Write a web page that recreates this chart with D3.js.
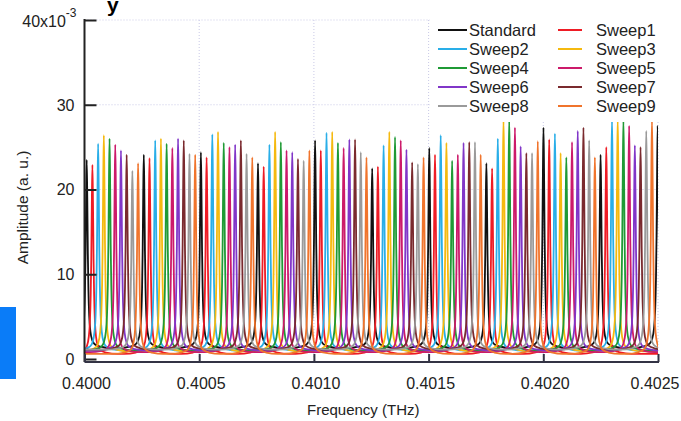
<!DOCTYPE html>
<html>
<head>
<meta charset="utf-8">
<script src="https://cdn.jsdelivr.net/npm/d3@7"></script>
<style>
    body { margin: 0; background: #fff; }
    #chart-area { width: 681px; height: 421px; }
    text { font-family: "Liberation Sans", Arial, sans-serif; fill: #222; }
</style>
</head>
<body>
<div id="chart-area"></div>
<script>
/* * * * * * * * * * * * * *
*   Sweep spectra (comb)    *
* * * * * * * * * * * * * */

// series names (legend order)
const seriesNames = ["Standard", "Sweep1", "Sweep2", "Sweep3", "Sweep4",
    "Sweep5", "Sweep6", "Sweep7", "Sweep8", "Sweep9"];

// comb layout (THz)
const combStart = 0.4000096;     // first Standard peak
const combSpacing = 0.0002489;   // peak to peak, same series
const sweepStep = 0.00002489;    // shift between neighbouring sweeps

// peak heights, x10^-3 a.u., one per comb line
const standardPeaks = [23.5, 24.1, 24.4, 23.1, 25.8, 22.5, 24.9, 23.1, 27.3, 24.1, 27.5];
const sweep1Peaks = [22.9, 23.7, 23.8, 22.7, 24.6, 22.7, 24.1, 22.5, 25.9, 25.0];
const sweep2Peaks = [25.4, 25.8, 26.5, 25.3, 26.7, 25.2, 26.4, 26.0, 26.6, 28.2];
const sweep3Peaks = [26.4, 26.0, 26.8, 26.8, 26.8, 26.8, 25.5, 28.2, 24.3, 28.3];
const sweep4Peaks = [26.0, 25.4, 25.5, 25.6, 25.5, 26.2, 23.4, 28.2, 23.8, 28.2];
const sweep5Peaks = [25.3, 24.9, 25.0, 24.6, 24.9, 25.8, 24.1, 27.3, 25.6, 27.5];
const sweep6Peaks = [24.6, 26.0, 25.3, 24.4, 25.9, 24.7, 25.5, 25.1, 26.9, 25.2];
const sweep7Peaks = [24.1, 25.8, 25.8, 23.6, 25.9, 23.2, 25.6, 24.3, 27.3, 25.0];
const sweep8Peaks = [22.2, 24.2, 24.2, 23.4, 24.4, 23.0, 25.6, 24.3, 25.8, 26.9];
const sweep9Peaks = [23.1, 24.1, 23.8, 24.6, 23.8, 23.8, 24.1, 25.7, 23.8, 28.2];

// noise floor of each trace, x10^-3
const baselines = [1.3, 0.6, 1.0, 0.9, 1.0, 0.8, 1.0, 1.1, 1.1, 0.6];

// line shape of one peak: offset from centre (MHz) and fraction of height
const profileOffsets = [-110, -60, -35, -25, -16, -11, -7.5, -5, -2.5, 0, 2.5, 5, 7.5, 11, 16, 25, 35, 60, 110];
const profileFractions = [0, 0.007, 0.02, 0.038, 0.089, 0.17, 0.31, 0.5, 0.8, 1, 0.8, 0.5, 0.31, 0.17, 0.089, 0.038, 0.02, 0.007, 0];

// axes
const xTicks = [0.4000, 0.4005, 0.4010, 0.4015, 0.4020, 0.4025];
const yTicks = [0, 10, 20, 30, 40];

const seriesColors = ["#111111", "#ee1c25", "#29aee8", "#f5b90f", "#1f9a35",
    "#cc1a6a", "#8136c8", "#7a2a2e", "#9a9a9a", "#f0742c"];


class combVis {
    constructor(parentElement, peaks) {
        this.parentElement = parentElement;
        this.peaks = peaks;
        this.initVis();
    }

    initVis() {
        let vis = this;
        vis.W = 681;
        vis.H = 421;
        vis.margin = {top: 20, right: 23, bottom: 62, left: 84.5};
        vis.width = vis.W - vis.margin.left - vis.margin.right;
        vis.height = 359 - vis.margin.top;

        vis.root = d3.select("#" + vis.parentElement).append("svg")
            .attr("width", vis.W)
            .attr("height", vis.H);

        vis.svg = vis.root.append("g")
            .attr("transform", `translate(${vis.margin.left}, ${vis.margin.top})`);

        vis.x = d3.scaleLinear().domain([0.4000, 0.4025]).range([0, vis.width]);
        vis.y = d3.scaleLinear().domain([0, 40]).range([vis.height, 0]);

        vis.svg.append("clipPath").attr("id", "plot-clip")
            .append("rect")
            .attr("x", 0).attr("y", -2)
            .attr("width", vis.width).attr("height", vis.height + 5);

        vis.wrangleData();
    }

    wrangleData() {
        let vis = this;
        vis.lines = vis.peaks.map((heights, s) => {
            let base = baselines[s];
            let pts = [{f: 0.3999, v: base}];
            heights.forEach((h, k) => {
                let c = combStart + k * combSpacing + s * sweepStep;
                profileOffsets.forEach((off, i) => {
                    pts.push({f: c + off * 1e-6, v: base + (h - base) * profileFractions[i]});
                });
            });
            pts.push({f: 0.4026, v: base});
            return {name: seriesNames[s], color: seriesColors[s], values: pts};
        });
        vis.updateVis();
    }

    updateVis() {
        let vis = this;

        // dotted grid
        let grid = vis.svg.append("g").attr("class", "grid");
        grid.selectAll(".vgrid").data(xTicks.slice(1))
            .enter().append("line")
            .attr("x1", d => vis.x(d)).attr("x2", d => vis.x(d))
            .attr("y1", 0).attr("y2", vis.height)
            .attr("stroke", "#c9c9e6").attr("stroke-width", 1)
            .attr("stroke-dasharray", "1,2");
        grid.selectAll(".hgrid").data(yTicks.slice(1))
            .enter().append("line")
            .attr("x1", 0).attr("x2", vis.width)
            .attr("y1", d => vis.y(d)).attr("y2", d => vis.y(d))
            .attr("stroke", "#c9c9e6").attr("stroke-width", 1)
            .attr("stroke-dasharray", "1,2");

        // traces
        let line = d3.line()
            .x(d => vis.x(d.f))
            .y(d => vis.y(d.v))
            .curve(d3.curveMonotoneX);
        vis.svg.append("g").attr("clip-path", "url(#plot-clip)")
            .selectAll("path").data(vis.lines)
            .enter().append("path")
            .attr("d", d => line(d.values))
            .attr("fill", "none")
            .attr("stroke", d => d.color)
            .attr("stroke-width", 1.8)
            .attr("stroke-linejoin", "round");

        // left axis, ticks pointing in
        let yAxis = d3.axisRight(vis.y).tickValues(yTicks).tickSize(12).tickFormat("");
        vis.svg.append("g").attr("class", "y-axis")
            .call(yAxis)
            .call(g => g.select(".domain").remove())
            .call(g => g.selectAll(".tick line").attr("stroke", "#222").attr("stroke-width", 2));
        vis.svg.append("line")
            .attr("x1", 0).attr("x2", 0)
            .attr("y1", vis.y(40) - 1).attr("y2", vis.height + 3)
            .attr("stroke", "#222").attr("stroke-width", 2);

        vis.svg.selectAll(".ylab").data(yTicks.slice(0, 4))
            .enter().append("text")
            .attr("x", -10).attr("y", d => vis.y(d))
            .attr("dy", "0.36em")
            .attr("text-anchor", "end")
            .attr("font-size", 16)
            .text(d => d);
        let top = vis.svg.append("text")
            .attr("x", -8).attr("y", vis.y(40) + 7)
            .attr("text-anchor", "end")
            .attr("font-size", 16);
        top.append("tspan").text("40x10");
        top.append("tspan").attr("dy", -10).attr("font-size", 12).text("-3");

        // bottom axis, ticks pointing up
        let xAxis = d3.axisTop(vis.x).tickValues(xTicks).tickSize(8).tickSizeOuter(0).tickFormat("");
        vis.svg.append("g").attr("class", "x-axis")
            .attr("transform", `translate(0, ${vis.height + 3})`)
            .call(xAxis)
            .call(g => g.select(".domain").remove())
            .call(g => g.selectAll(".tick line").attr("stroke", "#333344").attr("stroke-width", 2));
        vis.svg.append("line")
            .attr("x1", 0).attr("x2", vis.width + 1)
            .attr("y1", vis.height + 3).attr("y2", vis.height + 3)
            .attr("stroke", "#333344").attr("stroke-width", 2);

        vis.svg.selectAll(".xlab").data(xTicks)
            .enter().append("text")
            .attr("x", d => Math.min(vis.x(d) + 2, vis.width - 3))
            .attr("y", vis.height + 30)
            .attr("text-anchor", "middle")
            .attr("font-size", 16)
            .text(d => d3.format(".4f")(d));

        // axis titles
        vis.svg.append("text")
            .attr("x", vis.width / 2 - 8).attr("y", vis.height + 56)
            .attr("text-anchor", "middle")
            .attr("font-size", 15)
            .text("Frequency (THz)");
        vis.svg.append("text")
            .attr("transform", `translate(${-57}, ${vis.y(20) + 18}) rotate(-90)`)
            .attr("text-anchor", "middle")
            .attr("font-size", 15.5)
            .text("Amplitude (a. u.)");

        // legend, white box over the traces
        let legend = vis.svg.append("g").attr("class", "legend")
            .attr("transform", `translate(${vis.width - 228}, ${-2})`);
        legend.append("rect")
            .attr("width", 232).attr("height", 104)
            .attr("fill", "#fff");
        let item = legend.selectAll(".item").data(vis.lines)
            .enter().append("g")
            .attr("transform", (d, i) => `translate(${i % 2 === 0 ? 8 : 128}, ${12 + Math.floor(i / 2) * 19})`);
        item.append("line")
            .attr("x1", 0).attr("x2", (d, i) => i % 2 === 0 ? 29 : 24)
            .attr("stroke", d => d.color).attr("stroke-width", 2);
        item.append("text")
            .attr("x", (d, i) => i % 2 === 0 ? 31 : 38).attr("dy", "0.36em")
            .attr("font-size", 16.5)
            .text(d => d.name);

        // cut-off bits around the figure
        vis.root.append("text")
            .attr("x", 107).attr("y", 12)
            .attr("font-size", 21).attr("font-weight", "bold")
            .style("fill", "#000")
            .text("y");
        vis.root.append("rect")
            .attr("x", 0).attr("y", 307)
            .attr("width", 16).attr("height", 72)
            .attr("fill", "#0a7cf8");
    }
}

new combVis("chart-area", [standardPeaks, sweep1Peaks, sweep2Peaks, sweep3Peaks, sweep4Peaks,
    sweep5Peaks, sweep6Peaks, sweep7Peaks, sweep8Peaks, sweep9Peaks]);
</script>
</body>
</html>
